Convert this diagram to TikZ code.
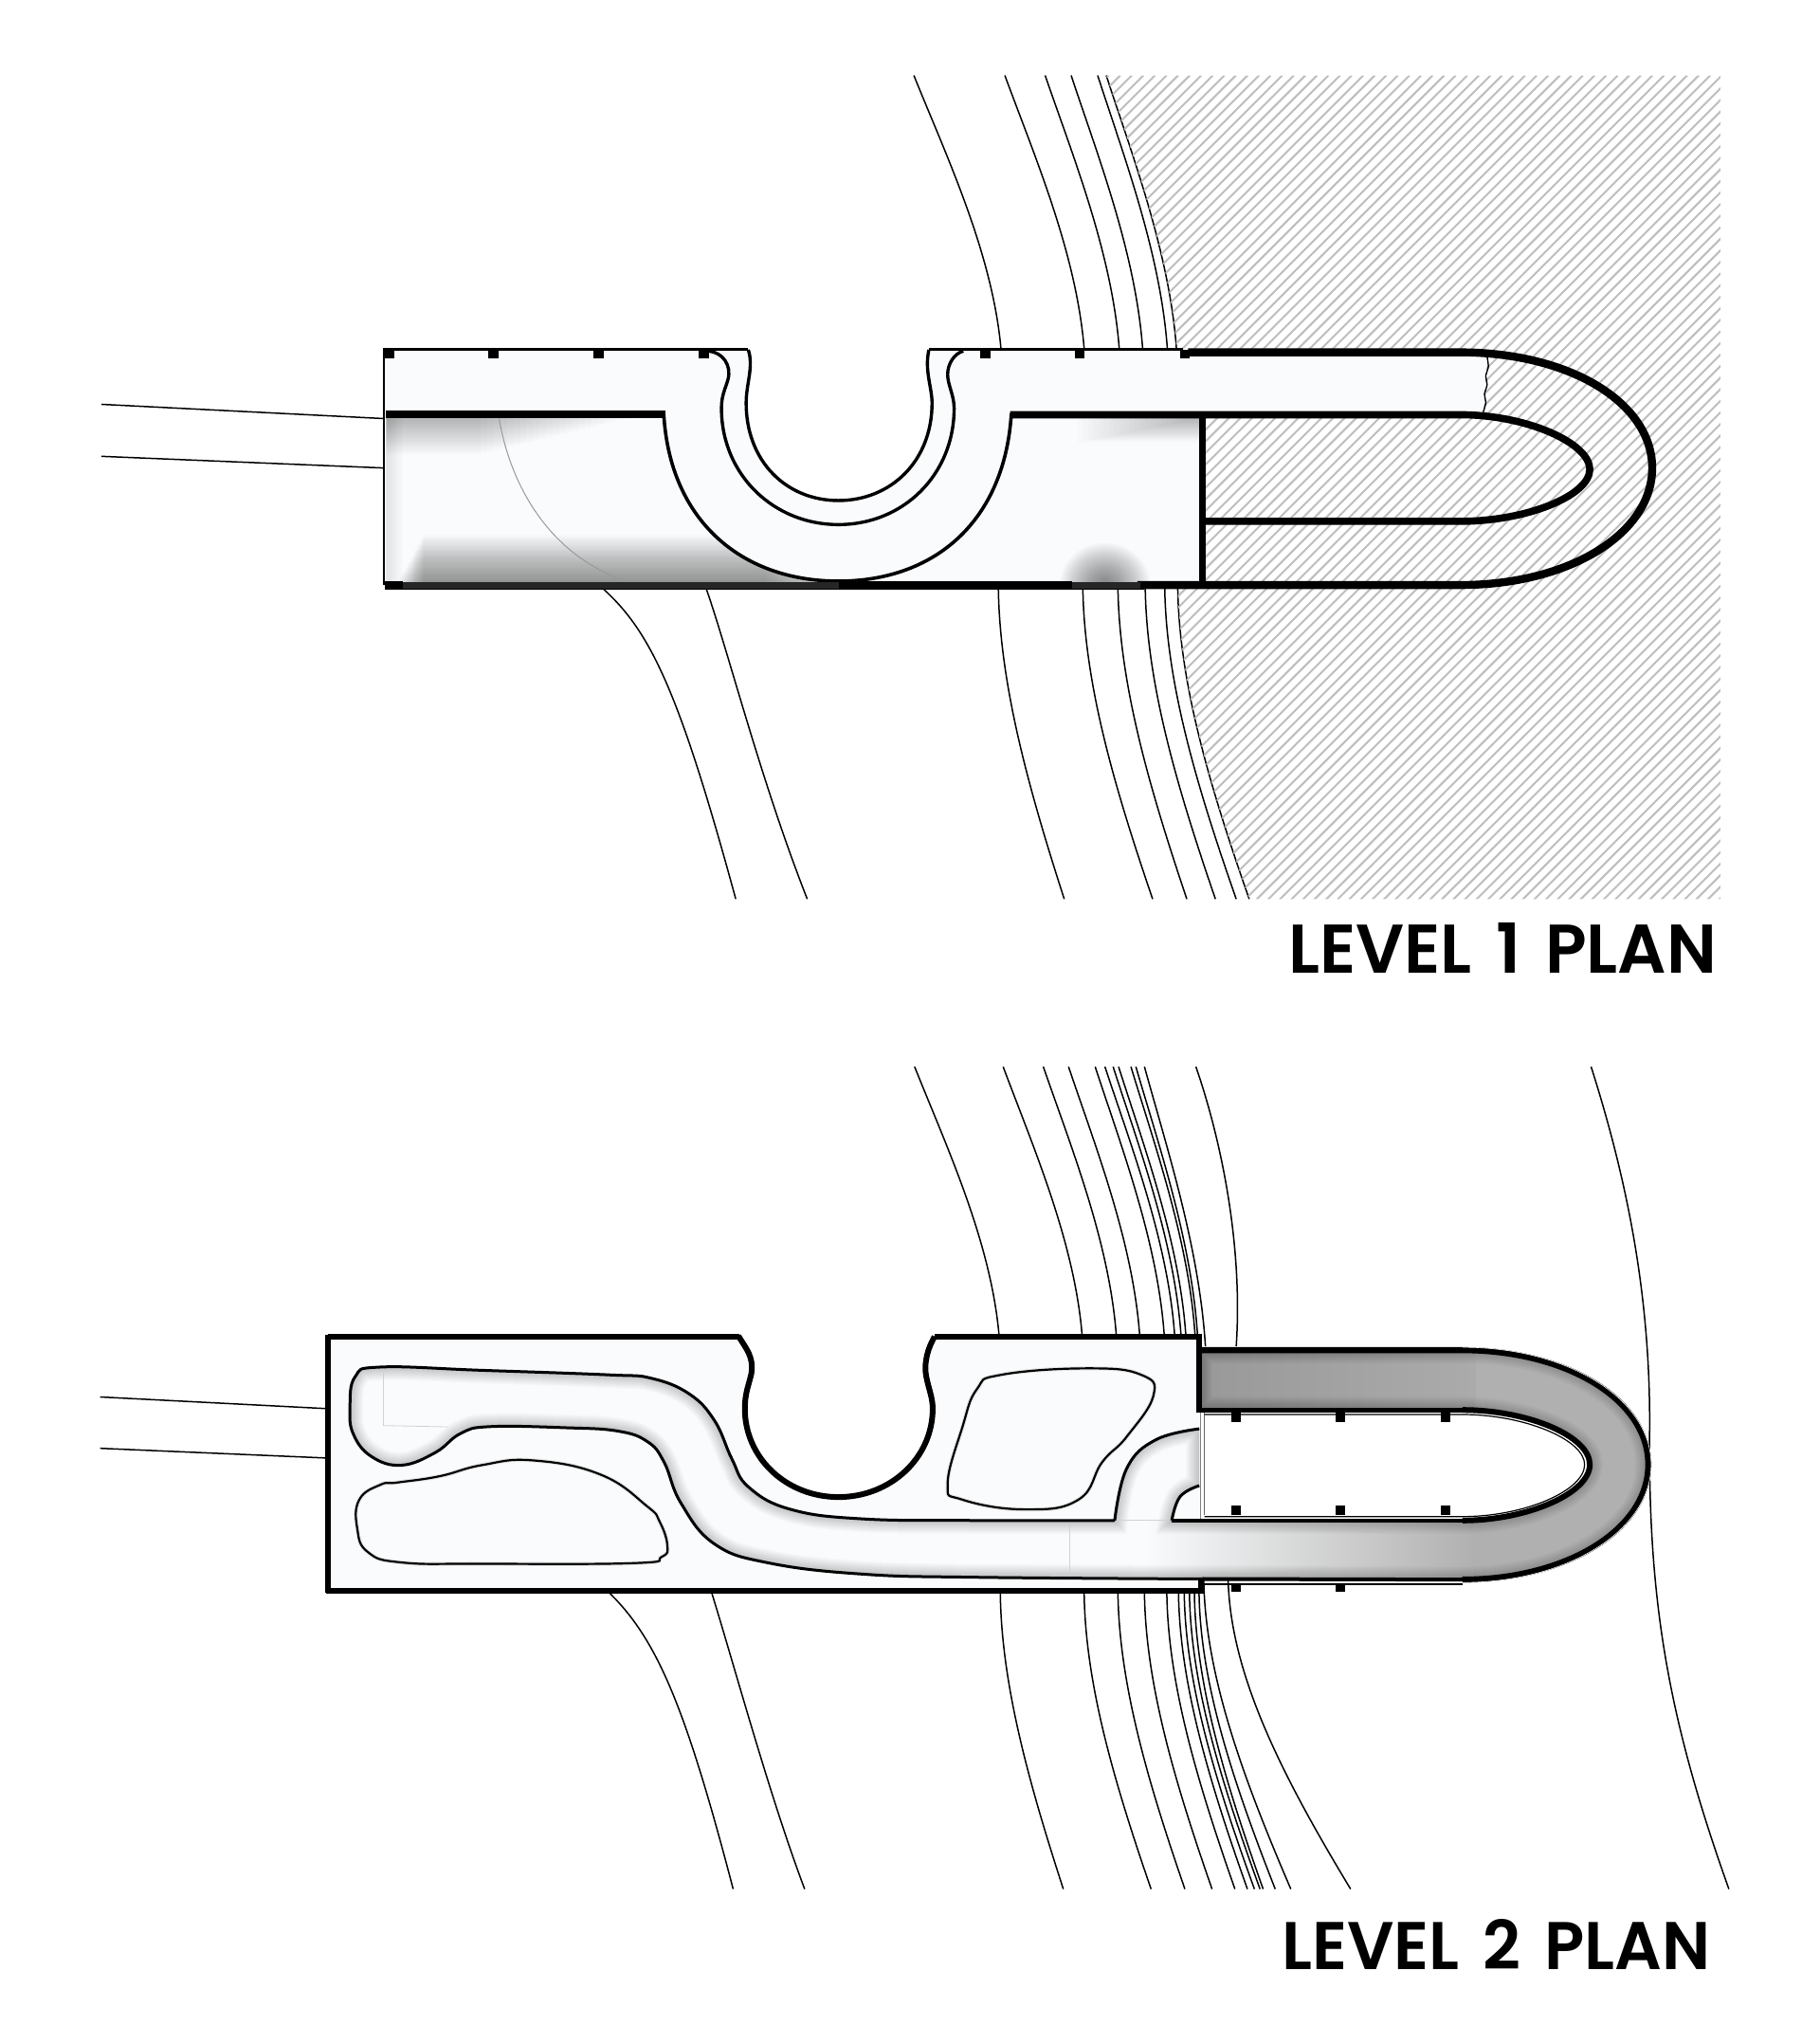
\documentclass[tikz,border=0pt]{standalone}
\usepackage{fontspec}
\newfontfamily\titlefont{Poppins SemiBold}
\definecolor{base}{HTML}{FAFBFC}
\definecolor{hatchc}{HTML}{BEBEBE}
\newcommand\ctop[4]{\draw[contour] (#1,#2) .. controls ({#1+.38*(#3-#1)},{#2+.30*(#4-#2)}) and ({#1+.90*(#3-#1)},{#2+.65*(#4-#2)}) .. (#3,#4);}
\newcommand\cbot[4]{\draw[contour] (#1,#2) .. controls ({#1+.02*(#3-#1)},{#2+.30*(#4-#2)}) and ({#1+.42*(#3-#1)},{#2+.62*(#4-#2)}) .. (#3,#4);}
% level 1 shapes
\def\roomA{(297,321) -- (510.6,321) .. controls (515,400) and (570,447) .. (645,447) .. controls (720,447) and (773,400) .. (778,321) -- (925,321) -- (925,449) -- (297,449) -- cycle}
% level 2 shapes
\def\corrpath{(922.6,1037) -- (1125,1037) .. controls (1205,1037) and (1268,1075) .. (1268,1125) .. controls (1268,1175) and (1205,1213.5) .. (1125,1213.5) -- plot[smooth,tension=.7] coordinates {(751,1211.7) (664,1209.3) (592,1200.8) (549.8,1186.2) (523.8,1154.6) (510.8,1123) (497.8,1107.2) (475,1099.2) (436,1096.7) (377.3,1095.8) (354.5,1101) (335,1115.7) (309,1125.5) (286,1119) (272,1102) (269.2,1081.7) (273.2,1057.4) (292.7,1050) (370.8,1052.5) (468.5,1056) (501,1058.6) (530.3,1070.7) (549.8,1091.4) (563,1120.6) (576,1142.4) (608.4,1159.5) (664,1166.8) (751,1168) (857.5,1168)} -- plot[smooth,tension=.7] coordinates {(857.5,1168) (866.8,1127.9) (889,1106) (922.6,1097.5)} -- plot[smooth,tension=.7] coordinates {(922.6,1141.2) (907.8,1149.7) (901.4,1168)} -- (1125,1168) .. controls (1175,1168) and (1223,1147) .. (1223,1125) .. controls (1223,1103) and (1175,1083) .. (1125,1083) -- (922.6,1083) -- cycle}
\def\notchC{(568,1026) .. controls (574,1036) and (580,1042) .. (578,1055) .. controls (576,1064) and (573,1070) .. (573,1082) .. controls (573,1120) and (605,1150) .. (645,1150) .. controls (685,1150) and (717.5,1120) .. (717.5,1082) .. controls (717.5,1070) and (711,1060) .. (712,1048) .. controls (713,1038) and (716,1032) .. (719,1026.5)}
\tikzset{
 contour/.style={line width=.75pt,black},
 wallthick/.style={line width=4pt,black},
 wallmid/.style={line width=1.8pt,black},
 wallthin/.style={line width=1.5pt,black},
 pale/.style={line width=.4pt,black!18},
 tickmark/.style={fill=black,draw=none},
 title/.style={anchor=south east,inner sep=0pt,font=\titlefont}
}
\begin{document}
\begin{tikzpicture}[x=0.685714pt,y=-0.685714pt]
\useasboundingbox (0,0) rectangle (1400,1572.2);
\fill[white] (0,0) rectangle (1400,1572.2);

% ---------- LEVEL 1 : contours
\ctop{703}{58}{770}{268}
\ctop{773}{58}{834}{268}
\ctop{804}{58}{861}{268}
\ctop{824}{58}{879}{268}
\ctop{844.4}{58}{898}{268}
\ctop{851}{58}{905}{268}
\cbot{768}{452}{818.7}{691.5}
\cbot{833}{452}{886.7}{691.5}
\cbot{860}{452}{913}{691.5}
\cbot{881}{452}{935}{691.5}
\cbot{896}{452}{951}{691.5}
\cbot{906}{452}{961}{691.5}
\draw[contour] (463,452) .. controls (500,485) and (522,530) .. (566,691.5);
\draw[contour] (543,452) .. controls (560,500) and (585,600) .. (621,691.5);
\draw[contour] (78,311) -- (296,322);
\draw[contour] (78,351) -- (296,360);

% hatch
\begin{scope}
\clip (851,58) .. controls (871.5,121) and (899.6,194.5) .. (905,268) -- (906,452) .. controls (907,523.7) and (929,600) .. (961,691.5) -- (1323.5,691.5) -- (1323.5,58) -- cycle;
\foreach \i in {0,...,125}{\draw[hatchc,line width=1pt] ({210+8.9*\i},692) -- ({844+8.9*\i},58);}
\end{scope}

% base fill
\fill[base] (295.5,268.6) -- (575.6,269) .. controls (580,282) and (574,295) .. (574,310) .. controls (574,355) and (605,385) .. (645,385) .. controls (685,385) and (717,355) .. (717,310) .. controls (717,298) and (711,285) .. (714.6,269) -- (1144,269) -- (1141,319) -- (925,319) -- (925,450) -- (295.5,450) -- cycle;

% shadows
\begin{scope}
\clip \roomA;
\foreach \i in {1,...,24}{\fill[black,opacity=.012] (297,321) rectangle ({490-\i*5},{321+\i*1.2});}
\foreach \i in {1,...,30}{\fill[black,opacity=.016] ({305+\i*.7},449) rectangle ({662-\i*2.4},{449-\i*1.25});}
\foreach \i in {1,...,24}{\fill[black,opacity=.011] (925,321) rectangle ({925-\i*4},{321+\i*.8});}
\foreach \i in {1,...,24}{\fill[black,opacity=.024] (850,450) ellipse ({\i*1.45} and {\i*1.35});}
\foreach \i in {1,...,8}{\fill[black,opacity=.012] (297,321) rectangle ({297+\i*1.6},449);}
\end{scope}

% thin lines
\draw[black!40,line width=.5pt] (384,322) .. controls (392,370) and (420,425) .. (479,446);
\draw[line width=1.2pt] (910,268.6) -- (714.6,268.6);
\draw[line width=1.7pt] (575.6,269) .. controls (580,282) and (574,295) .. (574,310) .. controls (574,355) and (605,385) .. (645,385) .. controls (685,385) and (717,355) .. (717,310) .. controls (717,298) and (711,285) .. (714.6,269);
\draw[line width=1.2pt] (575.6,268.6) -- (295.5,268.6) -- (295.5,450);
\draw[line width=1.7pt] (545,270) .. controls (556,271) and (563,281) .. (560,292) .. controls (558,299) and (555,304) .. (555,314) .. controls (555,365) and (595,403.5) .. (645,403.5) .. controls (695,403.5) and (734,365) .. (734,314) .. controls (734,304) and (729,296) .. (729,288) .. controls (729,280) and (734,272) .. (741,270);
\draw[wallmid] (510.6,318) .. controls (515,400) and (570,447) .. (645,447) .. controls (720,447) and (773,400) .. (778,318);
\draw[wallthick] (297,319) -- (512,319);
\draw[black,line width=3.8pt] (777,319) -- (1123,319) .. controls (1175,319) and (1223,341) .. (1223,361) .. controls (1223,381) and (1175,401) .. (1123,401) -- (925,401);
\draw[black,line width=3.6pt] (925,319) -- (925,451.5);
\draw[black,line width=4.2pt] (914,271) -- (1123,271) .. controls (1208,271) and (1271,310) .. (1271,360) .. controls (1271,410) and (1208,450) .. (1123,450) -- (875,450);
\draw[black,line width=4.2pt] (825,450) -- (645,450);
\fill[black!85] (310,447.5) rectangle (645,453);
\fill[black!85] (825,447.5) rectangle (877,453);
\draw[black,line width=.7pt] (296,453) -- (880,453);
\fill[black] (296,447) rectangle (310,453);
\draw[line width=.7pt] plot[smooth,tension=.3] coordinates {(1144,274) (1145,282) (1143,289) (1144,296) (1142,303) (1143,310) (1141,317)};
\foreach \x in {379.7,460.6,541.3,758,830.7,911.5}{\fill[tickmark] ({\x-3.8},269) rectangle ({\x+3.8},276);}
\fill[tickmark] (295.5,269) rectangle (303.5,276);

\node[title] (lone) at (1321,748.5) {\resizebox{226pt}{26.5pt}{LEVEL\hspace{.12em} 1\hspace{.12em} PLAN}};

% ---------- LEVEL 2
\begin{scope}[shift={(0,1.5)}]
\ctop{703.6}{819}{768.5}{1025}
\ctop{771.7}{819}{832.4}{1025}
\ctop{802.6}{819}{858.7}{1025}
\ctop{822}{819}{876.7}{1025}
\ctop{842.5}{819}{895.6}{1025}
\ctop{850}{819}{903.6}{1025}
\ctop{856.3}{819}{908.5}{1025}
\ctop{860.5}{819}{912.2}{1025}
\ctop{870}{819}{919.3}{1025}
\ctop{873.8}{819}{921.2}{1025}
\ctop{880.4}{819}{927.3}{1034}
\draw[contour] (920,819) .. controls (941,880) and (956,960) .. (951,1034);
\cbot{769.5}{1224}{818}{1451.5}
\cbot{834}{1224}{885.5}{1451.5}
\cbot{860}{1224}{911.5}{1451.5}
\cbot{880.4}{1224}{932.4}{1451.5}
\cbot{897.6}{1224}{950}{1451.5}
\cbot{906.6}{1224}{959.6}{1451.5}
\cbot{911}{1224}{965}{1451.5}
\cbot{915}{1224}{969.3}{1451.5}
\cbot{918.8}{1224}{971.7}{1451.5}
\cbot{922.4}{1224}{981}{1451.5}
\cbot{926}{1214}{993}{1451.5}
\cbot{944.8}{1214}{1039}{1451.5}
\draw[contour] (467,1222) .. controls (505,1258) and (527,1310) .. (564,1451.5);
\draw[contour] (547,1222) .. controls (565,1280) and (592,1380) .. (619,1451.5);
\draw[contour] (77,1073) -- (252,1082);
\draw[contour] (77,1112.5) -- (252,1120);
\draw[contour] (1224,819) .. controls (1253,910) and (1270,1000) .. (1269,1100) .. controls (1268,1230) and (1283,1320) .. (1330,1451.5);

% base
\fill[base] (252,1027) -- \notchC -- (922.6,1027) -- (922.6,1222) -- (252,1222) -- cycle;
% corridor
\begin{scope}
\clip \corrpath;
\fill[white] (250,1030) rectangle (1280,1220);
\fill[base] (250,1030) rectangle (1130,1220);
\shade[left color=base,right color=black!31] (880,1168) rectangle (1135,1216);
\fill[black!31] (1135,1030) rectangle (1280,1220);
\shade[left color=black!40,right color=black!33] (922,1033) rectangle (1135,1085);
\foreach \w in {1,...,14}{\draw[black,opacity=.016,line width=\w pt] \corrpath;}
\end{scope}

% pale lines
\draw[pale] (295,1050) -- (295,1095) -- (345,1096);
\draw[pale] (823,1170) -- (823,1212);
\draw[pale] (857,1168) -- (901,1168);
\draw[line width=.7pt,black!50] (923.6,1085) -- (923.6,1168);
\draw[line width=.6pt,black!60] (926.6,1085) -- (926.6,1163.5);

% rooms
\draw[line width=2.2pt,black!10] plot[smooth cycle,tension=.75] coordinates {(292.7,1140.5) (276.4,1152) (274.8,1174) (283,1192.3) (309,1200.3) (370.8,1201.3) (488,1200.8) (509,1196) (513.4,1187.4) (507.5,1169) (497.7,1157) (462,1132.7) (410,1121.8) (370.8,1125.4) (338,1134) (305.7,1138.8)};
\draw[line width=1.1pt] plot[smooth cycle,tension=.75] coordinates {(292.7,1140.5) (276.4,1152) (274.8,1174) (283,1192.3) (309,1200.3) (370.8,1201.3) (488,1200.8) (509,1196) (513.4,1187.4) (507.5,1169) (497.7,1157) (462,1132.7) (410,1121.8) (370.8,1125.4) (338,1134) (305.7,1138.8)};
\draw[line width=2.2pt,black!10] plot[smooth cycle,tension=.75] coordinates {(729,1140) (740.4,1152) (788.7,1159.5) (829.6,1152) (848,1123) (866.8,1103.5) (887.3,1072) (878,1056) (837,1051) (770,1056) (751.5,1067) (740.4,1096)};
\draw[line width=1.1pt] plot[smooth cycle,tension=.75] coordinates {(729,1140) (740.4,1152) (788.7,1159.5) (829.6,1152) (848,1123) (866.8,1103.5) (887.3,1072) (878,1056) (837,1051) (770,1056) (751.5,1067) (740.4,1096)};

% corridor walls
\draw[wallthin] plot[smooth,tension=.7] coordinates {(925,1213) (751,1211.7) (664,1209.3) (592,1200.8) (549.8,1186.2) (523.8,1154.6) (510.8,1123) (497.8,1107.2) (475,1099.2) (436,1096.7) (377.3,1095.8) (354.5,1101) (335,1115.7) (309,1125.5) (286,1119) (272,1102) (269.2,1081.7) (273.2,1057.4) (292.7,1050) (370.8,1052.5) (468.5,1056) (501,1058.6) (530.3,1070.7) (549.8,1091.4) (563,1120.6) (576,1142.4) (608.4,1159.5) (664,1166.8) (751,1168) (857.5,1168)};
\draw[wallthin] plot[smooth,tension=.7] coordinates {(857.5,1168) (866.8,1127.9) (889,1106) (922.6,1097.5)};
\draw[wallthin] plot[smooth,tension=.7] coordinates {(922.6,1141.2) (907.8,1149.7) (901.4,1168)};
% loop
\draw[black,line width=3.2pt] (922.6,1037) -- (1125,1037) .. controls (1205,1037) and (1268,1075) .. (1268,1125) .. controls (1268,1175) and (1205,1213.5) .. (1125,1213.5);
\draw[black,line width=2pt] (1127,1213.5) -- (925,1213);
\draw[black,line width=3pt] (1125,1168) .. controls (1175,1168) and (1223,1147) .. (1223,1125) .. controls (1223,1103) and (1175,1083) .. (1125,1083);
\draw[black,line width=2pt] (901.4,1168) -- (1127,1168);
\draw[black,line width=2.6pt] (1127,1083) -- (922.6,1083);
\draw[white,line width=.3pt] (1125,1034.8) .. controls (1207,1034.8) and (1270.2,1075) .. (1270.2,1125) .. controls (1270.2,1175) and (1207,1215.7) .. (1125,1215.7);
\draw[black,line width=.6pt] (926.6,1165) -- (1125,1165) .. controls (1173,1165) and (1219,1145) .. (1219,1125) .. controls (1219,1106) and (1173,1086.5) .. (1125,1086.5) -- (926.6,1086.5);
\draw[black,line width=.7pt] (922.6,1217) -- (1125,1217);
% box
\draw[line width=3pt,black] (252,1027) -- (569,1027);
\draw[line width=3pt,black] (719,1027) -- (922.6,1027) -- (922.6,1085);
\draw[line width=3pt,black] \notchC;
\draw[line width=3pt,black] (252,1025.5) -- (252,1223.5);
\draw[line width=3pt,black] (250.5,1222) -- (924,1222) -- (924,1213);
\foreach \x in {951,1031,1112}{\fill[tickmark] ({\x-3.65},1085) rectangle ({\x+3.65},1092);
 \fill[tickmark] ({\x-3.65},1156.5) rectangle ({\x+3.65},1163.5);}
\foreach \x in {951,1031}{\fill[tickmark] ({\x-3.65},1216) rectangle ({\x+3.65},1223);}
\end{scope}

\node[title] (ltwo) at (1316,1515) {\resizebox{226pt}{26.5pt}{LEVEL\hspace{.12em} 2\hspace{.12em} PLAN}};
\end{tikzpicture}
\end{document}
